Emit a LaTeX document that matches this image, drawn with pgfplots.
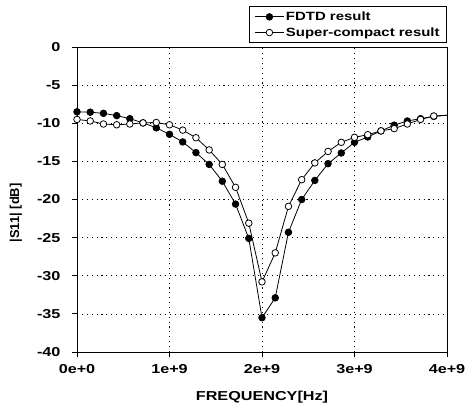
\documentclass[border=0pt]{standalone}
\usepackage{fontspec}
\setmainfont{Liberation Sans}[FakeStretch=1.25]
\newfontfamily\ylabfont{Liberation Sans}
\usepackage{pgfplots}
\pgfplotsset{compat=1.18}
\usepackage{pgfplotstable}

\pgfplotstableread{
f s11
0.000 -8.5
0.143 -8.55
0.286 -8.7
0.429 -9.0
0.571 -9.4
0.714 -9.95
0.857 -10.6
1.000 -11.45
1.143 -12.45
1.286 -13.85
1.429 -15.4
1.571 -17.6
1.714 -20.6
1.857 -25.1
2.000 -35.5
2.143 -32.9
2.286 -24.3
2.429 -20.0
2.571 -17.5
2.714 -15.3
2.857 -13.9
3.000 -12.5
3.143 -11.8
3.286 -11.0
3.429 -10.25
3.571 -9.7
3.714 -9.4
3.857 -9.1
4.000 -8.95
}\fdtd

\pgfplotstableread{
f s11
0.000 -9.5
0.143 -9.7
0.286 -10.1
0.429 -10.2
0.571 -10.1
0.714 -9.95
0.857 -9.9
1.000 -10.2
1.143 -10.9
1.286 -11.9
1.429 -13.5
1.571 -15.4
1.714 -18.4
1.857 -23.1
2.000 -30.8
2.143 -27.0
2.286 -20.9
2.429 -17.4
2.571 -15.2
2.714 -13.7
2.857 -12.5
3.000 -11.85
3.143 -11.5
3.286 -11.0
3.429 -10.7
3.571 -10.1
3.714 -9.5
3.857 -9.05
4.000 -8.95
}\compact

\begin{document}
\begin{tikzpicture}
\begin{axis}[
  name=ax,
  width=370bp, height=305bp, scale only axis,
  xmin=0, xmax=4, ymin=-40, ymax=0,
  xtick={0,1,2,3,4},
  xticklabels={0e+0,1e+9,2e+9,3e+9,4e+9},
  ytick={-40,-35,-30,-25,-20,-15,-10,-5,0},
  yticklabels={-40,-35,-30,-25,-20,-15,-10,-5,0},
  /pgf/number format/assume math mode=true,
  grid=major,
  grid style={black, line width=0.7pt, dash pattern=on 1.1pt off 3.8pt},
  axis line style={black, line width=0.9pt},
  tick align=outside, tick pos=left,
  major tick length=5bp,
  tick style={black, line width=0.8pt},
  xticklabel style={font=\fontsize{13}{15}\selectfont\bfseries, yshift=-4bp},
  yticklabel style={font=\fontsize{13}{15}\selectfont\bfseries, xshift=-8bp},
  xlabel={FREQUENCY[Hz]},
  ylabel={|S11| [dB]},
  xlabel style={font=\fontsize{13}{15}\selectfont\bfseries, at={(axis description cs:0.5,0)}, anchor=center, yshift=-45bp},
  ylabel style={font=\ylabfont\fontsize{13}{15}\selectfont\bfseries, at={(axis description cs:-0.165,0.456)}, anchor=center},
  legend style={at={(rel axis cs:1,1)}, anchor=south east, yshift=4bp,
    draw=black, line width=0.8pt, font=\fontsize{12}{14}\selectfont\bfseries,
    inner xsep=5bp, inner ysep=3bp, row sep=1.5bp},
  legend cell align=left,
  legend image code/.code={
    \draw[mark indices={2}] plot coordinates {(0cm,0cm) (0.5cm,0cm) (1.0cm,0cm)};
  },
]
\addplot[black, line width=0.8pt, mark=*, mark size=3.3bp, mark indices={1,...,28},
  mark options={solid, fill=black}] table[x=f, y=s11] {\fdtd};
\addlegendentry{FDTD result}
\addplot[black, line width=0.8pt, mark=*, mark size=3.3bp, mark indices={1,...,28},
  mark options={solid, fill=white}] table[x=f, y=s11] {\compact};
\addlegendentry{Super-compact result}
\end{axis}
\pgfresetboundingbox
\path[use as bounding box] ([xshift=-77bp,yshift=-58bp]ax.south west) rectangle ([xshift=19bp,yshift=47bp]ax.north east);
\end{tikzpicture}
\end{document}
